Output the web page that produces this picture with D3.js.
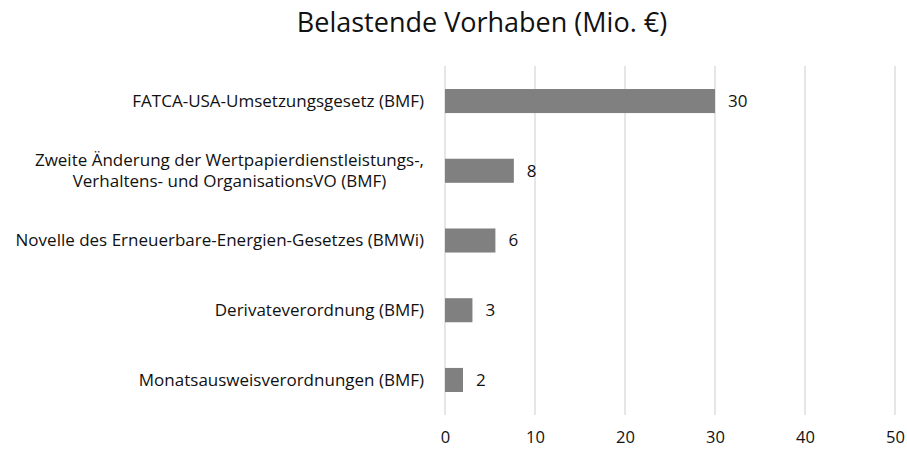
<!DOCTYPE html>
<html><head><meta charset="utf-8">
<script src="https://cdn.jsdelivr.net/npm/d3@7"></script>
<style>body{margin:0;background:#fff}text{font-family:"Open Sans",sans-serif}</style>
</head><body><svg id="c" width="907" height="450"></svg>
<script>
const title = "Belastende Vorhaben (Mio. €)";
const categories = [
  ["FATCA-USA-Umsetzungsgesetz (BMF)"],
  ["Zweite Änderung der Wertpapierdienstleistungs-,", "Verhaltens- und OrganisationsVO (BMF)"],
  ["Novelle des Erneuerbare-Energien-Gesetzes (BMWi)"],
  ["Derivateverordnung (BMF)"],
  ["Monatsausweisverordnungen (BMF)"]
];
const values = [30, 7.65, 5.6, 3.05, 2.0];
const xTicks = [0, 10, 20, 30, 40, 50];

const FONT = "'Open Sans',sans-serif";
const FS = 17;
const svg = d3.select("#c");
const x = d3.scaleLinear().domain([0, 50]).range([445, 895]);
const y = d3.scaleBand().domain(d3.range(categories.length)).range([66, 415]).paddingInner(0.655).paddingOuter(0.33);

svg.append("text").attr("x", 482).attr("y", 32).attr("text-anchor", "middle")
  .attr("font-size", 27).attr("fill", "#111").text(title);

svg.append("g").selectAll("line").data(xTicks).join("line")
  .attr("x1", d => x(d)).attr("x2", d => x(d)).attr("y1", 66).attr("y2", 415)
  .attr("stroke", "#d9d9d9").attr("stroke-width", 1.3);

const xa = svg.append("g").attr("transform", "translate(0,415)")
  .call(d3.axisBottom(x).tickValues(xTicks).tickSize(0).tickPadding(16));
xa.select(".domain").remove();
xa.selectAll("text").attr("font-size", 16.5).attr("fill", "#111").style("font-family", FONT);

svg.append("g").selectAll("rect").data(values).join("rect")
  .attr("x", x(0)).attr("y", (d, i) => y(i)).attr("width", d => x(d) - x(0)).attr("height", y.bandwidth())
  .attr("fill", "#808080");

svg.append("g").selectAll("text").data(values).join("text")
  .attr("x", d => x(d) + 13).attr("y", (d, i) => y(i) + y.bandwidth() / 2).attr("dy", "0.35em")
  .attr("font-size", FS).attr("fill", "#111").text(d => d3.format(".0f")(d));

const lab = svg.append("g").selectAll("text").data(categories).join("text")
  .attr("text-anchor", "end").attr("font-size", FS).attr("fill", "#111")
  .attr("x", 424).attr("y", (d, i) => y(i) + y.bandwidth() / 2);
lab.each(function(d) {
  const t = d3.select(this);
  const n = d.length;
  d.forEach((s, k) => {
    t.append("tspan").attr("x", 424).attr("dy", k === 0 ? (n > 1 ? "-0.3em" : "0.35em") : "1.23em")
      .attr("text-anchor", k === 1 ? "middle" : "end")
      .text(s);
  });
});
lab.filter(d => d.length > 1).each(function() {
  const spans = d3.select(this).selectAll("tspan").nodes();
  const w0 = spans[0].getComputedTextLength();
  d3.select(spans[1]).attr("x", 424 - w0 / 2);
});
</script></body></html>
